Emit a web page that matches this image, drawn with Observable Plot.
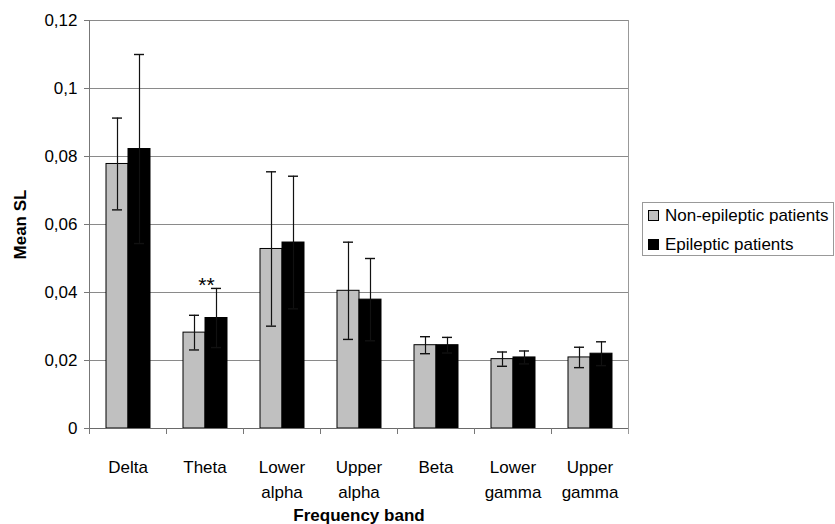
<!DOCTYPE html>
<html><head><meta charset="utf-8">
<script src="https://cdn.jsdelivr.net/npm/d3@7"></script>
<script src="https://cdn.jsdelivr.net/npm/@observablehq/plot@0.6"></script>
<style>
body{margin:0;background:#fff;font-family:"Liberation Sans",Arial,sans-serif;}
#wrap{position:relative;width:835px;height:524px;overflow:hidden;}
#legend{position:absolute;left:642px;top:202px;width:192px;height:54px;border:1px solid #999;box-sizing:border-box;background:#fff;font-size:17px;color:#000;}
#legend .item{position:absolute;left:5px;height:20px;line-height:20px;white-space:nowrap;}
#legend .sw{display:inline-block;width:11px;height:11px;border:1px solid #000;box-sizing:border-box;vertical-align:middle;margin-right:6px;position:relative;top:-1px;}
</style></head><body>
<div id="wrap"><div id="chart"></div><div id="legend"></div></div>
<script>
// ---- data ----
const bands = ["Delta", "Theta", "Lower alpha", "Upper alpha", "Beta", "Lower gamma", "Upper gamma"];
const bandLabels = ["Delta", "Theta", "Lower\nalpha", "Upper\nalpha", "Beta", "Lower\ngamma", "Upper\ngamma"];
const groups = ["Non-epileptic patients", "Epileptic patients"];
const nonMean = [0.0778, 0.0282, 0.0528, 0.0405, 0.0245, 0.0204, 0.0209];
const nonErr  = [0.0135, 0.0051, 0.0227, 0.0143, 0.0025, 0.0021, 0.0030];
const epiMean = [0.0822, 0.0325, 0.0547, 0.0379, 0.0245, 0.0209, 0.0220];
const epiErr  = [0.0278, 0.0087, 0.0195, 0.0121, 0.0023, 0.0019, 0.0035];
const yTicks = [0, 0.02, 0.04, 0.06, 0.08, 0.1, 0.12];
const colors = ["#c0c0c0", "#000000"];
const sigBands = ["Theta"];
const sigText = ["**"];

const data = bands.flatMap((b, i) => [
  {band: b, group: groups[0], mean: nonMean[i], err: nonErr[i]},
  {band: b, group: groups[1], mean: epiMean[i], err: epiErr[i]}
]);
const sig = sigBands.map((b, i) => {
  const k = bands.indexOf(b);
  return {band: b, group: groups[1], y: epiMean[k] + epiErr[k], text: sigText[i]};
});
const labelOf = new Map(bands.map((b, i) => [b, bandLabels[i]]));
const fmt = d => d === 0 ? "0" : String(d).replace(".", ",");

const H = 524, mTop = 20, mBottom = 96;
const plotH = H - mTop - mBottom;

const chart = Plot.plot({
  width: 835, height: H,
  marginLeft: 87, marginRight: 206, marginTop: mTop, marginBottom: mBottom,
  style: {fontFamily: "'Liberation Sans', Arial, sans-serif", fontSize: "17px", color: "#000", background: "#fff", overflow: "visible"},
  fx: {domain: bands, padding: 0, axis: null},
  x: {domain: groups, paddingInner: 0, paddingOuter: 0.71, axis: null},
  y: {domain: [0, 0.12], axis: null},
  color: {domain: groups, range: colors},
  marks: [
    Plot.gridY(yTicks, {stroke: "#8a8a8a", strokeOpacity: 1}),
    Plot.barY(data, {fx: "band", x: "group", y: "mean", fill: "group", stroke: "#000", strokeWidth: 1}),
    Plot.ruleX(data, {fx: "band", x: "group", y1: d => d.mean - d.err, y2: d => d.mean + d.err, stroke: "#111", strokeWidth: 1.2}),
    Plot.tickY(data, {fx: "band", x: "group", y: d => d.mean + d.err, stroke: "#111", strokeWidth: 1.4, insetLeft: 6, insetRight: 6}),
    Plot.tickY(data, {fx: "band", x: "group", y: d => d.mean - d.err, stroke: "#111", strokeWidth: 1.4, insetLeft: 6, insetRight: 6}),
    Plot.text(sig, {fx: "band", x: "group", y: "y", text: "text", dx: -10, dy: 4, lineAnchor: "bottom", fontSize: 21}),
    Plot.ruleY([0], {stroke: "#6a6a6a"}),
    Plot.frame({anchor: "left", insetTop: plotH, insetBottom: -5, stroke: "#777"}),
    Plot.frame({anchor: "right", facetAnchor: "right", insetBottom: -5, stroke: "#999"}),
    Plot.frame({anchor: "left", facetAnchor: "left", insetBottom: -5, stroke: "#777"}),
    Plot.axisY({ticks: yTicks, tickFormat: fmt, tickSize: 5, tickPadding: 7, stroke: "#777",
      label: "Mean SL", labelAnchor: "center", labelOffset: 76, labelArrow: false}),
    Plot.axisFx({anchor: "bottom", tickSize: 0, tickPadding: 27, tickFormat: d => labelOf.get(d), lineHeight: 1.45,
      label: "Frequency band", labelAnchor: "center", labelOffset: 92, labelArrow: false})
  ]
});
document.getElementById("chart").appendChild(chart);
d3.select(chart).selectAll('g[aria-label="y-axis label"] text, g[aria-label="fx-axis label"] text')
  .attr("font-weight", "bold");

// legend
const leg = document.getElementById("legend");
groups.forEach((g, i) => {
  const it = document.createElement("div");
  it.className = "item";
  it.style.top = (i === 0 ? 3 : 32) + "px";
  const sw = document.createElement("span");
  sw.className = "sw";
  sw.style.background = colors[i];
  it.appendChild(sw);
  it.appendChild(document.createTextNode(g));
  leg.appendChild(it);
});
</script>
</body></html>
